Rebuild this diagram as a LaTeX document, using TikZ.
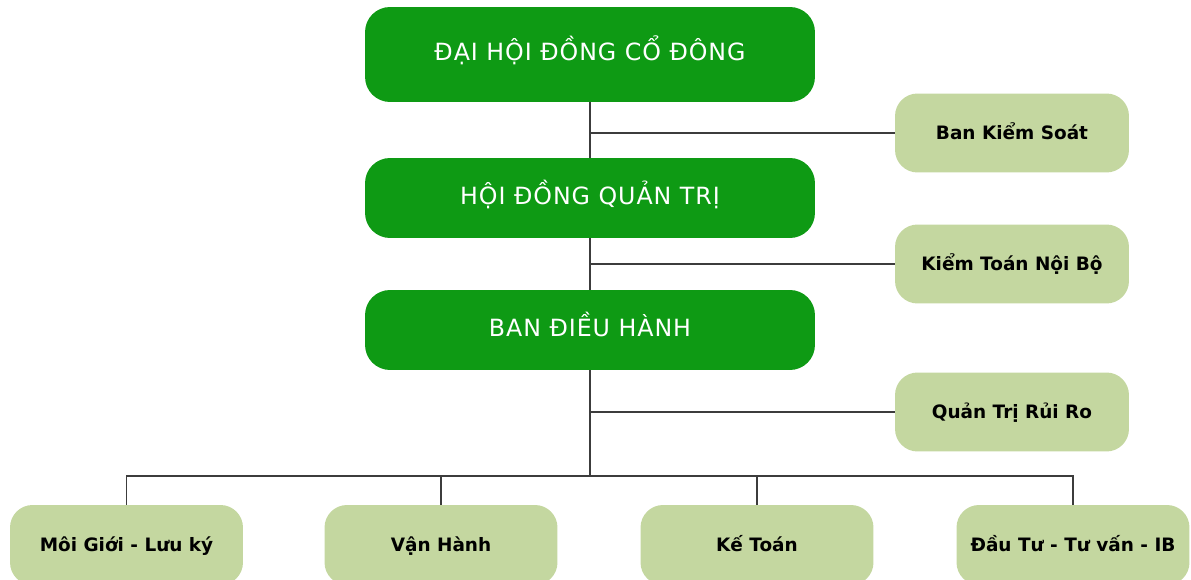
\documentclass[tikz,border=0pt]{standalone}
\usepackage{fontspec}
\setmainfont{DejaVu Sans}
\newfontfamily\boardfont[LetterSpace=4]{DejaVu Sans}
\usetikzlibrary{positioning}
\definecolor{bossgreen}{RGB}{14,154,20}
\definecolor{unitgreen}{RGB}{196,215,160}
\definecolor{linkgray}{RGB}{60,60,60}

\begin{document}
\begin{tikzpicture}[x=0.02cm,y=-0.02cm,
    board/.style={fill=bossgreen,rounded corners=0.5cm,minimum width=9cm,
                  minimum height=1.6cm,text=white,text height=1.6ex,text depth=.3ex,
                  font=\boardfont\fontsize{13.5}{16}\selectfont},
    unit/.style={fill=unitgreen,rounded corners=0.45cm,minimum width=4.68cm,
                 minimum height=1.58cm,text height=1.6ex,text depth=.3ex,
                 font=\bfseries\fontsize{10.5}{12}\selectfont},
    link/.style={draw=linkgray,line width=1pt}]
    \useasboundingbox (0,0) rectangle (1191,580);

    % the three boards down the middle
    \node[board,minimum height=1.9cm] (dhdcd) at (590,54.5) {ĐẠI HỘI ĐỒNG CỔ ĐÔNG};
    \node[board] (hdqt) at (590,198) {HỘI ĐỒNG QUẢN TRỊ};
    \node[board] (bdh)  at (590,330) {BAN ĐIỀU HÀNH};

    % units on the right
    \node[unit] (bks)  at (1012,133) {Ban Kiểm Soát};
    \node[unit] (ktnb) at (1012,264) {Kiểm Toán Nội Bộ};
    \node[unit] (qtrr) at (1012,412) {Quản Trị Rủi Ro};

    % units at the bottom
    \node[unit,minimum width=4.66cm,minimum height=1.6cm] (mgLK) at (126.5,545) {Môi Giới - Lưu ký};
    \node[unit,minimum width=4.66cm,minimum height=1.6cm] (vh)   at (441,545)   {Vận Hành};
    \node[unit,minimum width=4.66cm,minimum height=1.6cm] (kt)   at (757,545)   {Kế Toán};
    \node[unit,minimum width=4.66cm,minimum height=1.6cm] (dttv) at (1073,545)  {Đầu Tư - Tư vấn - IB};

    \coordinate (bus) at (590,476);

    \path[link] (dhdcd) edge (hdqt)
                (hdqt)  edge (bdh)
                (bdh)   edge (bus)
                (bks.west)  edge (bks.west -| dhdcd.south)
                (ktnb.west) edge (ktnb.west -| hdqt.south)
                (qtrr.west) edge (qtrr.west -| bdh.south);

    \foreach \u in {mgLK,vh,kt,dttv} {\draw[link] (bus) -| (\u.north);};
\end{tikzpicture}
\end{document}
